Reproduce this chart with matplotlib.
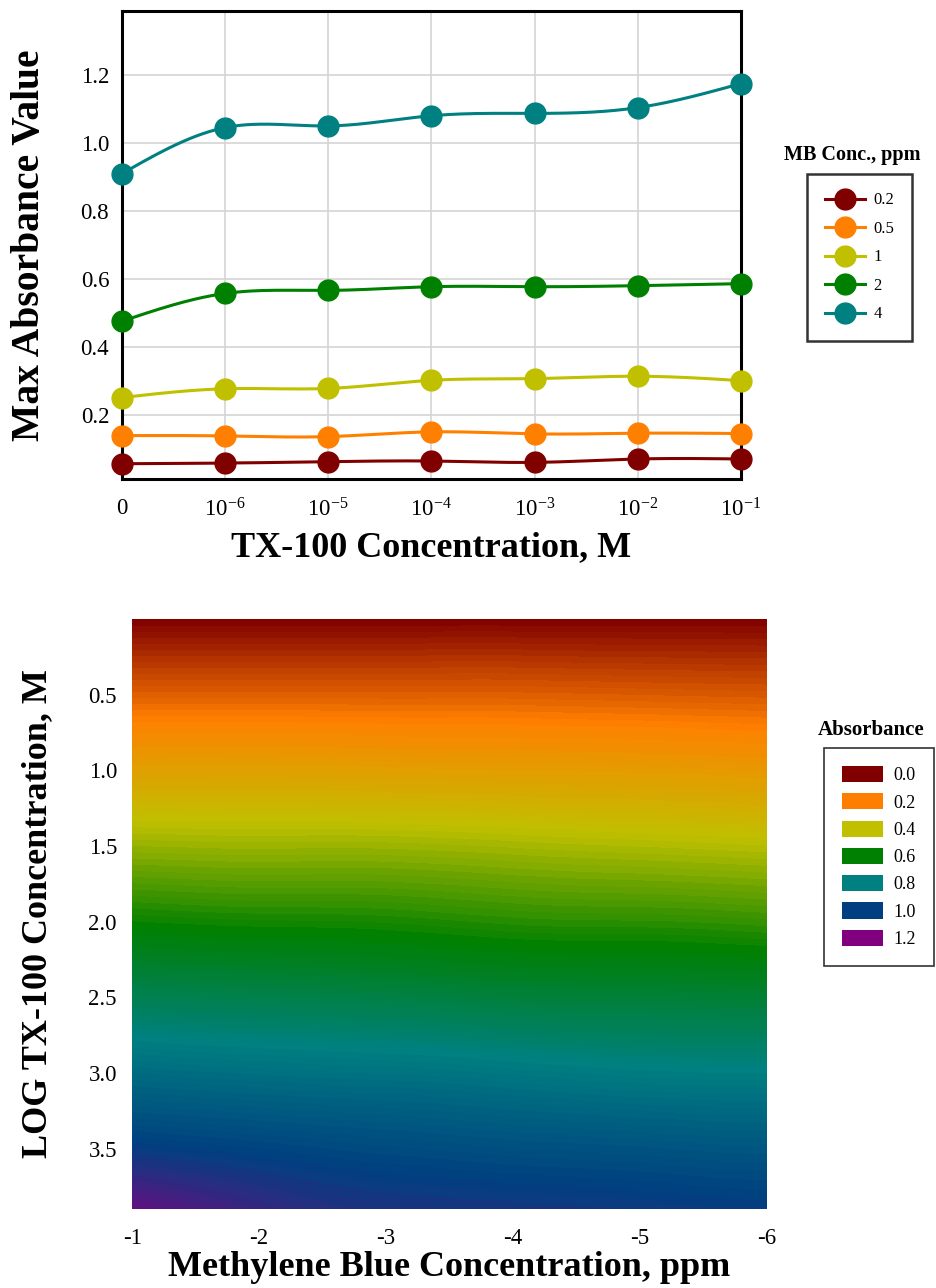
import numpy as np
import matplotlib
matplotlib.use('Agg')
import matplotlib.pyplot as plt
import matplotlib.tri as mtri
from matplotlib.colors import LinearSegmentedColormap, Normalize
from matplotlib.lines import Line2D
from matplotlib.patches import Patch

plt.rcParams['font.family'] = 'Liberation Serif'
plt.rcParams['mathtext.fontset'] = 'custom'
plt.rcParams['mathtext.rm'] = 'Liberation Serif'
plt.rcParams['mathtext.it'] = 'Liberation Serif:italic'
plt.rcParams['mathtext.bf'] = 'Liberation Serif:bold'

# --- top panel: max absorbance vs TX-100 concentration ---
tx_labels = ['0', r'$\mathregular{10^{-6}}$', r'$\mathregular{10^{-5}}$',
             r'$\mathregular{10^{-4}}$', r'$\mathregular{10^{-3}}$',
             r'$\mathregular{10^{-2}}$', r'$\mathregular{10^{-1}}$']
mb_conc = ['0.2', '0.5', '1', '2', '4']
abs_02 = [0.055, 0.057, 0.061, 0.063, 0.059, 0.069, 0.069]
abs_05 = [0.138, 0.137, 0.135, 0.149, 0.143, 0.145, 0.144]
abs_1 = [0.250, 0.276, 0.277, 0.301, 0.306, 0.313, 0.300]
abs_2 = [0.475, 0.557, 0.566, 0.577, 0.577, 0.580, 0.586]
abs_4 = [0.910, 1.046, 1.051, 1.081, 1.088, 1.105, 1.176]
line_colors = ['#800000', '#ff8000', '#c0c000', '#008000', '#008080']

# --- bottom panel: absorbance surface ---
mb_log = [-1, -2, -3, -4, -5, -6]
tx_log = [0.0, 0.5, 1.0, 1.5, 2.0, 2.5, 3.0, 3.5, 3.9]
# rows follow tx_log, columns follow mb_log
surface = np.array([
    [0.000, 0.000, 0.000, 0.000, 0.000, 0.000],
    [0.150, 0.150, 0.150, 0.150, 0.145, 0.140],
    [0.300, 0.300, 0.295, 0.290, 0.285, 0.275],
    [0.445, 0.440, 0.440, 0.430, 0.420, 0.410],
    [0.590, 0.580, 0.575, 0.560, 0.555, 0.545],
    [0.725, 0.715, 0.705, 0.690, 0.685, 0.680],
    [0.865, 0.850, 0.840, 0.825, 0.810, 0.805],
    [1.010, 0.985, 0.965, 0.950, 0.940, 0.930],
    [1.150, 1.080, 1.040, 1.030, 1.020, 1.010],
])
legend_levels = [0.0, 0.2, 0.4, 0.6, 0.8, 1.0, 1.2]
level_colors = ['#800000', '#ff8000', '#c0c000', '#008000', '#008080', '#004080', '#800080']


def natural_spline(x, y, n=300):
    x = np.asarray(x, float)
    y = np.asarray(y, float)
    k = len(x)
    h = np.diff(x)
    A = np.zeros((k, k))
    b = np.zeros(k)
    A[0, 0] = A[-1, -1] = 1
    for i in range(1, k - 1):
        A[i, i - 1] = h[i - 1]
        A[i, i] = 2 * (h[i - 1] + h[i])
        A[i, i + 1] = h[i]
        b[i] = 3 * ((y[i + 1] - y[i]) / h[i] - (y[i] - y[i - 1]) / h[i - 1])
    c = np.linalg.solve(A, b)
    bc = (y[1:] - y[:-1]) / h - h * (2 * c[:-1] + c[1:]) / 3
    d = (c[1:] - c[:-1]) / (3 * h)
    xs = np.linspace(x[0], x[-1], n)
    idx = np.clip(np.searchsorted(x, xs) - 1, 0, k - 2)
    dx = xs - x[idx]
    ys = y[idx] + bc[idx] * dx + c[idx] * dx ** 2 + d[idx] * dx ** 3
    return xs, ys


fig = plt.figure(figsize=(9.36, 12.88), dpi=100)
fig.patch.set_facecolor('white')

ax1 = fig.add_axes([0.130, 0.6281, 0.6617, 0.3634])
xpos = np.arange(len(tx_labels))
handles = []
for vals, col, lab in zip([abs_02, abs_05, abs_1, abs_2, abs_4], line_colors, mb_conc):
    xs, ys = natural_spline(xpos, vals)
    ax1.plot(xs, ys, color=col, lw=2.2, zorder=3, clip_on=False)
    ax1.plot(xpos, vals, 'o', color=col, ms=15, zorder=4, clip_on=False)
    handles.append(Line2D([], [], color=col, lw=2.2, marker='o', ms=15, label=lab))

ax1.set_xlim(0, 6)
ax1.set_ylim(0.01, 1.39)
ax1.set_xticks(xpos)
ax1.set_xticklabels(tx_labels)
ax1.set_yticks([0.2, 0.4, 0.6, 0.8, 1.0, 1.2])
ax1.set_yticklabels(['0.2', '0.4', '0.6', '0.8', '1.0', '1.2'])
ax1.tick_params(axis='both', length=0, labelsize=16.5)
ax1.tick_params(axis='x', pad=14)
ax1.tick_params(axis='y', pad=9)
ax1.grid(True, color='#d4d4d4', lw=1.2)
ax1.set_axisbelow(True)
for sp in ax1.spines.values():
    sp.set_linewidth(2.2)

fig.text(30 / 936, 1 - 245 / 1288, 'Max Absorbance Value', rotation=90,
         ha='center', va='center', fontsize=28.5, fontweight='bold')
fig.text(431 / 936, 1 - 548 / 1288, 'TX-100 Concentration, M',
         ha='center', va='center', fontsize=26, fontweight='bold')

leg1 = fig.legend(handles=handles, loc='center', bbox_to_anchor=(0.9183, 0.8002),
                  fontsize=12, frameon=True, fancybox=False, edgecolor='black',
                  handlelength=2.4, handletextpad=0.5, labelspacing=0.75,
                  borderpad=1.1, borderaxespad=0)
leg1.get_frame().set_linewidth(1.8)
fig.text(852 / 936, 1 - 155 / 1288, 'MB Conc., ppm', ha='center', va='center',
         fontsize=14.5, fontweight='bold')

# bottom surface
ax2 = fig.add_axes([0.1413, 0.0613, 0.6778, 0.4579])
cmap = LinearSegmentedColormap.from_list(
    'abs', list(zip(np.array(legend_levels) / 1.2, level_colors)))
norm = Normalize(vmin=0.0, vmax=1.2)
MX, TY = np.meshgrid(mb_log, tx_log)
tri = mtri.Triangulation(MX.ravel(), TY.ravel())
refiner = mtri.UniformTriRefiner(tri)
tri_f, z_f = refiner.refine_field(surface.ravel(), subdiv=4)
levels = np.arange(-0.01, 1.215, 0.012)
ax2.tricontourf(tri_f, z_f, levels=levels, cmap=cmap, norm=norm)
ax2.set_xlim(-1, -6)
ax2.set_ylim(3.9, 0.0)
ax2.set_xticks(mb_log)
ax2.set_xticklabels([str(v) for v in mb_log])
ax2.set_yticks([0.5, 1.0, 1.5, 2.0, 2.5, 3.0, 3.5])
ax2.set_yticklabels(['0.5', '1.0', '1.5', '2.0', '2.5', '3.0', '3.5'])
ax2.tick_params(axis='both', length=0, labelsize=16.5)
ax2.tick_params(axis='x', pad=14)
ax2.tick_params(axis='y', pad=11)
for sp in ax2.spines.values():
    sp.set_visible(False)

fig.text(38 / 936, 1 - 914 / 1288, 'LOG TX-100 Concentration, M', rotation=90,
         ha='center', va='center', fontsize=26, fontweight='bold')
fig.text(449 / 936, 1 - 1268 / 1288, 'Methylene Blue Concentration, ppm',
         ha='center', va='center', fontsize=26, fontweight='bold')

patches = [Patch(facecolor=cmap(norm(v)), edgecolor='none', label=f'{v:.1f}')
           for v in legend_levels]
leg2 = fig.legend(handles=patches, loc='center', bbox_to_anchor=(0.9388, 0.3346),
                  fontsize=13, frameon=True, fancybox=False, edgecolor='black',
                  handlelength=2.3, handleheight=1.0, handletextpad=0.55,
                  labelspacing=0.5, borderpad=1.0, borderaxespad=0)
leg2.get_frame().set_linewidth(1.2)
fig.text(871 / 936, 1 - 730 / 1288, 'Absorbance', ha='center', va='center',
         fontsize=15, fontweight='bold')

fig.savefig('out.png', dpi=100)
